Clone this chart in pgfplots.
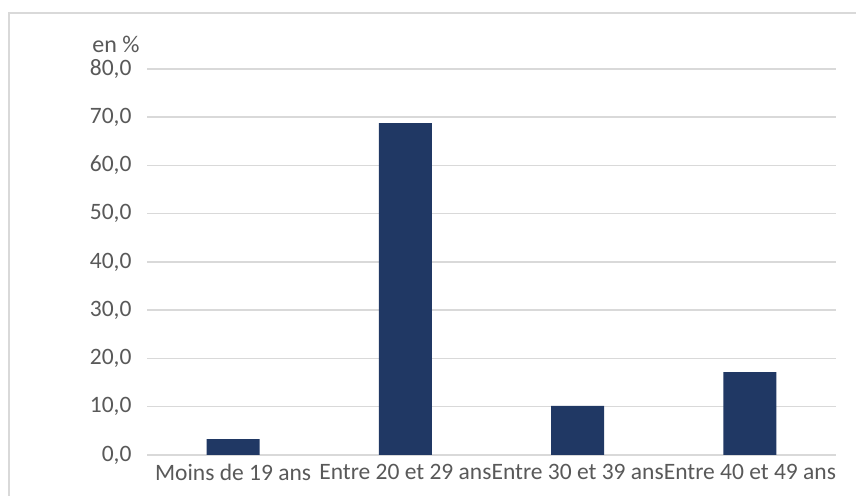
\documentclass[border=0pt]{standalone}
\usepackage{pgfplots}
\pgfplotsset{compat=1.18}
\usepackage{fontspec}
\setmainfont{Carlito}
\definecolor{barblue}{RGB}{32,56,100}
\definecolor{txtgray}{RGB}{89,89,89}
\definecolor{gridgray}{RGB}{217,217,217}
\begin{document}
\begin{tikzpicture}[x=1pt,y=1pt]
\useasboundingbox (0,0) rectangle (856,495);
\begin{scope}
  \clip (0,0) rectangle (856,495);
  \fill[white] (0,0) rectangle (856,495);
  \draw[gridgray, line width=2pt] (9,482) rectangle (900,-40);
\end{scope}
\begin{axis}[
  at={(147pt,40pt)}, anchor=south west,
  scale only axis, width=689pt, height=386pt,
  xmin=-0.5, xmax=3.5, ymin=0, ymax=80,
  axis line style={draw=none},
  tick style={draw=none},
  ytick={0,10,...,80},
  ymajorgrids, grid style={gridgray, line width=1.5pt},
  xtick={0,1,2,3},
  xticklabels={Moins de 19 ans, Entre 20 et 29 ans, Entre 30 et 39 ans, Entre 40 et 49 ans},
  /pgf/number format/assume math mode=true,
  /pgf/number format/.cd, use comma, fixed, fixed zerofill, precision=1, 1000 sep={},
  /pgfplots/.cd,
  tick label style={font=\fontsize{23.5}{27}\selectfont, text=txtgray},
  yticklabel style={anchor=east, xshift=-12pt},
  xticklabel style={anchor=north, yshift=-6pt},
]
\addplot[ybar, bar width=53pt, fill=barblue, draw=none] coordinates {
  (0,3.3)
  (1,68.8)
  (2,10.2)
  (3,17.2)
};
\end{axis}
\node[text=txtgray, font=\fontsize{24}{27}\selectfont] at (116,451) {en \%};
\end{tikzpicture}
\end{document}
